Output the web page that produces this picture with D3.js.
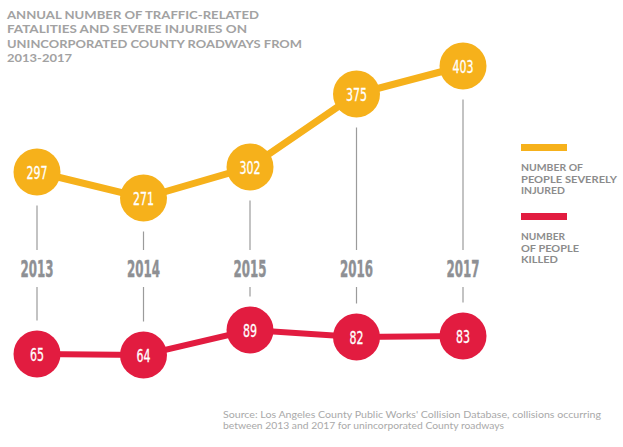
<!DOCTYPE html>
<html>
<head>
<meta charset="utf-8">
<script src="https://cdn.jsdelivr.net/npm/d3@7"></script>
<style>
  body { margin: 0; background: #fff; }
  svg { display: block; }
  .cond { font-family: "Liberation Sans Narrow", "DejaVu Sans Condensed", "Roboto Condensed", sans-serif; }
</style>
</head>
<body>
<svg id="chart" width="623" height="447"></svg>
<script>
// data
var years = ["2013", "2014", "2015", "2016", "2017"];
var injured = [297, 271, 302, 375, 403];
var killed = [65, 64, 89, 82, 83];
var titleLines = ["ANNUAL NUMBER OF TRAFFIC-RELATED", "FATALITIES AND SEVERE INJURIES ON",
  "UNINCORPORATED COUNTY ROADWAYS FROM", "2013-2017"];
var legendInjured = ["NUMBER OF", "PEOPLE SEVERELY", "INJURED"];
var legendKilled = ["NUMBER", "OF PEOPLE", "KILLED"];
var sourceLines = ["Source: Los Angeles County Public Works' Collision Database, collisions occurring",
  "between 2013 and 2017 for unincorporated County roadways"];

var yellow = "#F6B11B", red = "#E21C40", grey = "#9B9B9B";
var r = 23.5;

var svg = d3.select("#chart");

var x = d3.scalePoint().domain(years).range([37, 463]);
var yInj = d3.scaleLinear().domain([250, 420]).range([219, 49]);
var yKil = d3.scaleLinear().domain([60, 95]).range([359, 324]);

var injData = years.map(function(y, i) { return {year: y, v: injured[i]}; });
var kilData = years.map(function(y, i) { return {year: y, v: killed[i]}; });

// squeeze a text to the width measured on the picture
function fit(sel, w) {
  sel.attr("textLength", w).attr("lengthAdjust", "spacingAndGlyphs");
}

// title
svg.append("g").selectAll("text")
  .data(titleLines)
  .enter().append("text")
    .attr("x", 7)
    .attr("y", function(d, i) { return 18.5 + i * 14.5; })
    .attr("font-family", "Lato, sans-serif")
    .attr("font-weight", "bold")
    .attr("font-size", 12)
    .attr("fill", "#A2A2A2")
    .text(function(d) { return d; })
    .each(function(d, i) { fit(d3.select(this), [252, 240, 295, 65][i]); });

// vertical guide lines + year labels
var cols = svg.append("g").selectAll("g")
  .data(years)
  .enter().append("g");

cols.append("line")
  .attr("x1", function(d) { return x(d); })
  .attr("x2", function(d) { return x(d); })
  .attr("y1", function(d, i) { return yInj(injured[i]) + r + 10; })
  .attr("y2", 250)
  .attr("stroke", grey).attr("stroke-width", 1.2);

cols.append("line")
  .attr("x1", function(d) { return x(d); })
  .attr("x2", function(d) { return x(d); })
  .attr("y1", 287)
  .attr("y2", function(d, i) { return Math.max(293, yKil(killed[i]) - r - 10); })
  .attr("stroke", grey).attr("stroke-width", 1.2);

cols.append("text")
  .attr("class", "cond")
  .attr("x", function(d) { return x(d); })
  .attr("y", 276.5)
  .attr("text-anchor", "middle")
  .attr("font-weight", "bold")
  .attr("font-size", 23.5)
  .attr("fill", "#8E9094")
  .attr("stroke", "#8E9094")
  .attr("stroke-width", 0.4)
  .text(function(d) { return d; })
  .call(fit, 33);

// series
var line = d3.line().x(function(d) { return x(d.year); });

function drawSeries(data, yScale, color, width) {
  var g = svg.append("g");
  g.append("path")
    .datum(data)
    .attr("d", line.y(function(d) { return yScale(d.v); }))
    .attr("fill", "none")
    .attr("stroke", color)
    .attr("stroke-width", width);
  var pts = g.selectAll("g")
    .data(data)
    .enter().append("g")
      .attr("transform", function(d) { return "translate(" + x(d.year) + "," + yScale(d.v) + ")"; });
  pts.append("circle").attr("r", r).attr("fill", color);
  pts.append("text")
    .attr("class", "cond")
    .attr("y", 6.5)
    .attr("text-anchor", "middle")
    .attr("font-size", 18)
    .attr("fill", "#fff")
    .attr("stroke", "#fff")
    .attr("stroke-width", 0.3)
    .text(function(d) { return d.v; })
    .each(function(d) { fit(d3.select(this), String(d.v).length * 7); });
}
drawSeries(injData, yInj, yellow, 7);
drawSeries(kilData, yKil, red, 6);

// legend
function legend(y0, color, lines, widths) {
  var g = svg.append("g");
  g.append("rect").attr("x", 521).attr("y", y0).attr("width", 46).attr("height", 7).attr("fill", color);
  g.selectAll("text")
    .data(lines)
    .enter().append("text")
      .attr("x", 521)
      .attr("y", function(d, i) { return y0 + 27 + i * 11.7; })
      .attr("font-family", "Lato, sans-serif")
      .attr("font-weight", "bold")
      .attr("font-size", 9.5)
      .attr("fill", "#8C8C8C")
      .text(function(d) { return d; })
      .each(function(d, i) { fit(d3.select(this), widths[i]); });
}
legend(144, yellow, legendInjured, [62, 96, 44]);
legend(213, red, legendKilled, [44, 58, 37]);

// source
svg.append("g").selectAll("text")
  .data(sourceLines)
  .enter().append("text")
    .attr("x", 223)
    .attr("y", function(d, i) { return 418 + i * 10.5; })
    .attr("font-family", "Lato, sans-serif")
    .attr("font-size", 8.8)
    .attr("fill", "#A9A9A9")
    .text(function(d) { return d; })
    .each(function(d, i) { fit(d3.select(this), [378, 281][i]); });
</script>
</body>
</html>
